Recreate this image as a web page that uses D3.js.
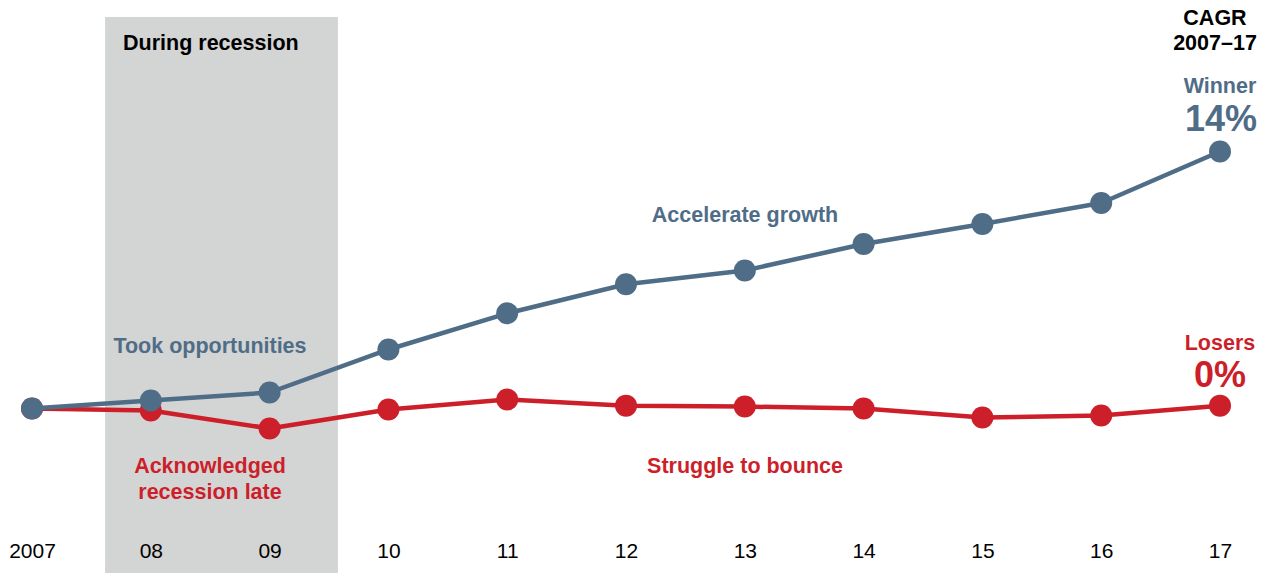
<!DOCTYPE html>
<html><head><meta charset="utf-8">
<script src="https://cdn.jsdelivr.net/npm/d3@7"></script>
<style>body{margin:0;background:#fff}svg{display:block;font-family:"Liberation Sans",Arial,sans-serif}</style>
</head><body>
<svg id="c" width="1265" height="573"></svg>
<script>
const years = ["2007","08","09","10","11","12","13","14","15","16","17"];
const winner = [100,108.4,116.8,162,200,230.5,245,272.8,293.8,315.9,370];
const losers = [100,97.9,79,99,109.5,103,102,100,90.5,92.6,103];
const recessionBand = [0.615, 2.575];

const blue = "#4f6d87", red = "#cc1f2a";
const svg = d3.select("#c");
const x = d3.scaleLinear().domain([0, years.length - 1]).range([32, 1220]);
const y = d3.scaleLinear().domain([100, 370]).range([408.5, 151.5]);

svg.append("rect").attr("x", x(recessionBand[0])).attr("y", 17)
  .attr("width", x(recessionBand[1]) - x(recessionBand[0])).attr("height", 573 - 17)
  .attr("fill", "#d3d4d4");

svg.append("text").attr("x", x(recessionBand[0]) + 18).attr("y", 50)
  .attr("font-size", 21.5).attr("font-weight", "bold").attr("fill", "#000").text("During recession");

// x axis labels
const axis = d3.axisBottom(x).tickValues(d3.range(years.length)).tickFormat(i => years[i]).tickSize(0);
const ag = svg.append("g").attr("transform", "translate(0,540)").call(axis);
ag.select(".domain").remove();
ag.selectAll("text").attr("font-size", 21).attr("font-family", "Liberation Sans, Arial, sans-serif").attr("fill", "#000").attr("dy", 0).attr("y", 18);

const line = d3.line().x((d, i) => x(i)).y(d => y(d));
function series(data, color) {
  svg.append("path").datum(data).attr("d", line).attr("fill", "none")
    .attr("stroke", color).attr("stroke-width", 4.5).attr("stroke-linejoin", "round");
  svg.append("g").selectAll("circle").data(data).join("circle")
    .attr("cx", (d, i) => x(i)).attr("cy", d => y(d)).attr("r", 11).attr("fill", color);
}
series(losers, red);
series(winner, blue);

function label(txt, cx, by, size, color, anchor = "middle") {
  svg.append("text").attr("x", cx).attr("y", by).attr("text-anchor", anchor)
    .attr("font-size", size).attr("font-weight", "bold").attr("fill", color).text(txt);
}
label("CAGR", 1215, 25, 21.5, "#000");
label("2007–17", 1215, 50, 21.5, "#000");
label("Winner", 1220, 93, 21.5, blue);
label("14%", 1221, 131, 36, blue);
label("Losers", 1220, 350, 21.5, red);
label("0%", 1220, 387, 36, red);
label("Accelerate growth", 745, 222, 21.5, blue);
label("Took opportunities", 210, 353, 21.5, blue);
label("Acknowledged", 210, 473, 21.5, red);
label("recession late", 210, 499, 21.5, red);
label("Struggle to bounce", 745, 473, 21.5, red);
</script>
</body></html>
